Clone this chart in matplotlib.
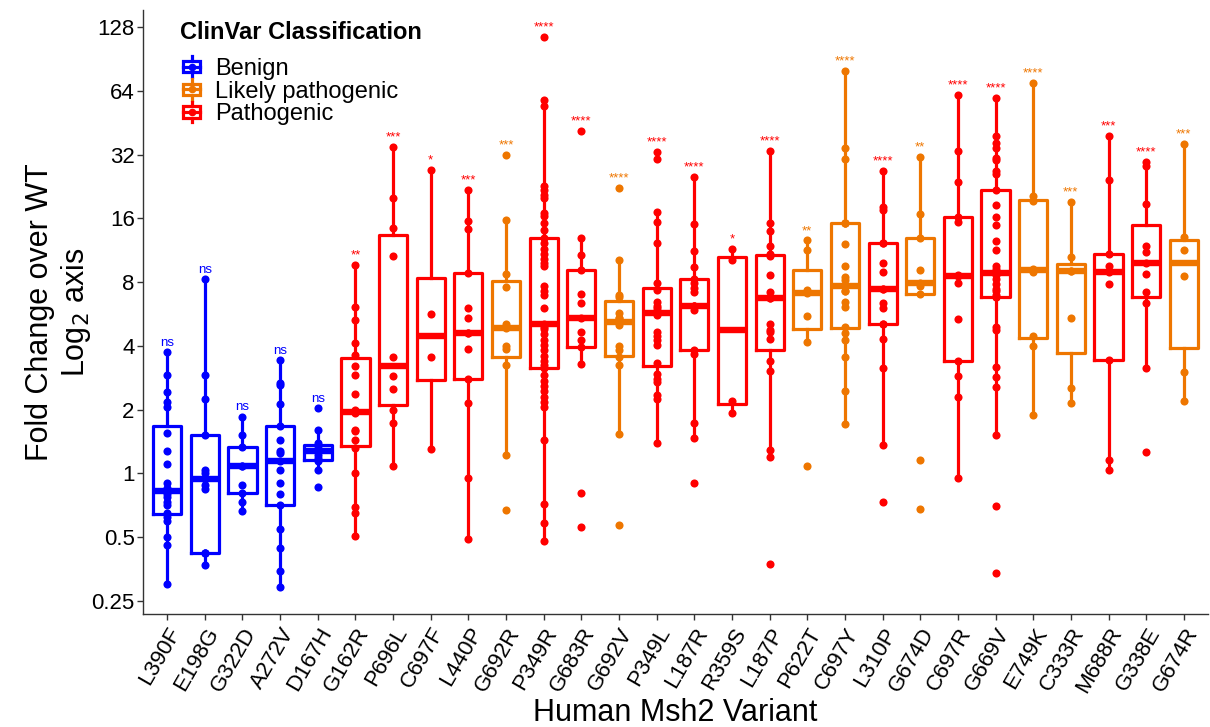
import numpy as np
import matplotlib
matplotlib.use("Agg")
import matplotlib.pyplot as plt
from matplotlib import cbook
from matplotlib.legend_handler import HandlerBase
from matplotlib.lines import Line2D
from matplotlib.patches import Rectangle

plt.rcParams["font.family"] = ["Liberation Sans", "DejaVu Sans"]

# ---------------------------------------------------------------- data
variants = ["L390F", "E198G", "G322D", "A272V", "D167H", "G162R", "P696L",
            "C697F", "L440P", "G692R", "P349R", "G683R", "G692V", "P349L",
            "L187R", "R359S", "L187P", "P622T", "C697Y", "L310P", "G674D",
            "C697R", "G669V", "E749K", "C333R", "M688R", "G338E", "G674R"]

classification = ["Benign"] * 5 + [
    "Pathogenic", "Pathogenic", "Pathogenic", "Pathogenic", "Likely pathogenic",
    "Pathogenic", "Pathogenic", "Likely pathogenic", "Pathogenic", "Pathogenic",
    "Pathogenic", "Pathogenic", "Likely pathogenic", "Likely pathogenic",
    "Pathogenic", "Likely pathogenic", "Pathogenic", "Pathogenic",
    "Likely pathogenic", "Likely pathogenic", "Pathogenic", "Pathogenic",
    "Likely pathogenic"]

significance = ["ns", "ns", "ns", "ns", "ns", "**", "***", "*", "***", "***",
                "****", "****", "****", "****", "****", "*", "****", "**",
                "****", "****", "**", "****", "****", "****", "***", "***",
                "****", "***"]

fold_L390F = [3.73, 2.90, 2.41, 2.18, 2.06, 1.55, 1.28, 1.11, 0.90, 0.855,
              0.80, 0.775, 0.734, 0.708, 0.647, 0.624, 0.597, 0.50, 0.46, 0.30]
fold_E198G = [8.25, 2.90, 2.24, 1.51, 1.04, 1.0, 0.94, 0.88, 0.84, 0.42,
              0.42, 0.42, 0.37]
fold_G322D = [1.85, 1.51, 1.33, 1.08, 1.08, 0.88, 0.81, 0.73, 0.66]
fold_A272V = [3.42, 2.68, 2.61, 2.13, 1.68, 1.44, 1.27, 1.25, 1.14, 1.04,
              0.90, 0.80, 0.71, 0.546, 0.445, 0.346, 0.29]
fold_D167H = [2.03, 1.60, 1.39, 1.32, 1.29, 1.27, 1.22, 1.18, 1.14, 1.04, 0.86]
fold_G162R = [9.68, 6.09, 5.28, 4.14, 3.61, 3.22, 2.92, 2.38, 1.99, 1.92,
              1.60, 1.58, 1.44, 1.32, 1.0, 0.69, 0.65, 0.505]
fold_P696L = [34.9, 19.9, 14.5, 10.6, 3.55, 2.89, 2.49, 1.99, 1.72, 1.08]
fold_C697F = [27.2, 5.68, 3.53, 1.30]
fold_L440P = [21.8, 15.6, 14.3, 8.87, 6.04, 5.40, 4.59, 4.59, 3.88, 2.78,
              2.16, 0.953, 0.49]
fold_G692R = [31.9, 15.7, 8.72, 7.57, 5.08, 4.84, 4.0, 3.86, 3.24, 1.22, 0.673]
fold_P349R = [115.6, 57.8, 54.6, 22.8, 21.9, 20.7, 19.9, 17.0, 16.5, 15.3,
              14.1, 12.9, 12.2, 11.5, 10.9, 10.3, 9.87, 9.57, 7.67, 7.29,
              6.96, 6.07, 5.10, 5.0, 4.9, 4.81, 4.54, 4.28, 4.04, 3.81, 3.60,
              3.39, 3.26, 3.14, 2.90, 2.74, 2.58, 2.44, 2.30, 2.17, 2.05,
              1.44, 0.717, 0.583, 0.48]
fold_G683R = [41.4, 12.95, 10.7, 9.13, 7.01, 6.36, 5.41, 4.66, 4.28, 3.96,
              3.29, 0.81, 0.557]
fold_G692V = [22.3, 10.2, 6.96, 6.83, 5.73, 5.41, 5.41, 5.0, 3.99, 3.81,
              3.53, 3.26, 1.53, 0.567]
fold_P349L = [33.0, 30.7, 17.2, 15.4, 12.2, 7.97, 7.38, 6.44, 6.20, 6.06,
              5.86, 5.84, 5.62, 4.63, 4.45, 4.28, 4.04, 3.32, 2.96, 2.79,
              2.69, 2.34, 2.25, 1.39]
fold_L187R = [25.2, 15.1, 11.2, 9.45, 8.30, 7.96, 7.52, 7.20, 6.15, 6.15,
              6.15, 5.89, 3.83, 3.67, 1.73, 1.47, 0.90]
fold_R359S = [11.5, 10.2, 2.20, 1.92]
fold_L187P = [33.5, 15.3, 13.97, 11.8, 10.9, 10.6, 8.65, 7.21, 6.76, 6.76,
              5.08, 4.76, 4.67, 4.32, 3.39, 3.05, 1.29, 1.19, 0.372]
fold_P622T = [12.6, 11.3, 7.35, 7.09, 5.52, 4.17, 1.08]
fold_C697Y = [80.0, 34.4, 30.5, 15.3, 15.3, 15.3, 12.1, 9.57, 8.49, 8.19,
              7.27, 7.27, 6.47, 6.13, 4.93, 4.59, 4.27, 3.56, 2.46, 1.71]
fold_L310P = [26.8, 18.2, 17.5, 12.3, 12.3, 9.83, 8.91, 7.43, 7.43, 6.36,
              6.02, 5.08, 5.08, 4.31, 3.15, 1.36, 0.73]
fold_G674D = [31.3, 16.8, 12.9, 9.09, 7.94, 7.64, 7.07, 1.15, 0.68]
fold_C697R = [61.6, 33.5, 23.9, 16.2, 15.4, 8.64, 8.59, 7.94, 5.38, 3.41,
              2.87, 2.29, 0.948]
fold_G669V = [59.3, 39.1, 36.4, 34.3, 30.8, 30.2, 26.9, 26.0, 21.8, 18.6,
              16.2, 14.9, 12.5, 11.3, 9.57, 9.28, 8.86, 8.67, 8.28, 7.85,
              7.46, 7.30, 6.96, 6.80, 6.80, 4.89, 4.76, 3.19, 2.84, 2.55,
              1.51, 0.70, 0.337]
fold_E749K = [70.0, 20.4, 19.4, 9.28, 8.93, 4.47, 3.98, 1.89]
fold_C333R = [19.1, 10.5, 9.07, 9.06, 5.44, 2.52, 2.14]
fold_M688R = [39.4, 24.4, 10.9, 9.57, 8.97, 7.82, 3.43, 1.16, 1.04]
fold_G338E = [29.7, 28.3, 18.7, 11.9, 11.15, 9.83, 8.75, 7.17, 6.40, 3.13, 1.26]
fold_G674R = [36.0, 13.1, 11.4, 8.56, 3.0, 2.2]

fold_changes = [fold_L390F, fold_E198G, fold_G322D, fold_A272V, fold_D167H,
                fold_G162R, fold_P696L, fold_C697F, fold_L440P, fold_G692R,
                fold_P349R, fold_G683R, fold_G692V, fold_P349L, fold_L187R,
                fold_R359S, fold_L187P, fold_P622T, fold_C697Y, fold_L310P,
                fold_G674D, fold_C697R, fold_G669V, fold_E749K, fold_C333R,
                fold_M688R, fold_G338E, fold_G674R]

y_ticks = [0.25, 0.5, 1, 2, 4, 8, 16, 32, 64, 128]
y_tick_labels = ["0.25", "0.5", "1", "2", "4", "8", "16", "32", "64", "128"]

class_order = ["Benign", "Likely pathogenic", "Pathogenic"]
class_colors = {"Benign": "#0000FF",
                "Likely pathogenic": "#EE7600",
                "Pathogenic": "#FF0000"}

# ---------------------------------------------------------------- figure
fig = plt.figure(figsize=(12.10, 7.27), dpi=100)
ax = fig.add_axes([143 / 1210, 113 / 727, (1208 - 143) / 1210, (717 - 113) / 727])
ax.set_yscale("log", base=2)

positions = np.arange(len(variants))
for pos, vals, cls, sig in zip(positions, fold_changes, classification, significance):
    col = class_colors[cls]
    vals = np.asarray(vals, dtype=float)
    # box statistics computed on the log2 scale, then mapped back
    st = cbook.boxplot_stats(np.log2(vals), whis=1.5)[0]
    for key in ("med", "q1", "q3", "whislo", "whishi", "mean"):
        st[key] = 2.0 ** st[key]
    st["fliers"] = []
    ax.bxp([st], positions=[pos], widths=0.75, showfliers=False,
           showcaps=False, patch_artist=False,
           boxprops=dict(color=col, linewidth=2.3),
           whiskerprops=dict(color=col, linewidth=2.3),
           medianprops=dict(color=col, linewidth=4.6, solid_capstyle="butt"),
           manage_ticks=False)
    ax.scatter(np.full(len(vals), pos), vals, s=34, color=col,
               linewidths=0, zorder=4)
    ax.annotate(sig, xy=(pos, vals.max()), xytext=(0, 2.5),
                textcoords="offset points", ha="center", va="bottom",
                color=col, fontsize=9.5)

ax.set_xlim(-0.64, len(variants) - 1 + 0.64)
ax.set_ylim(2 ** -2.209, 2 ** 7.273)
ax.set_yticks(y_ticks)
ax.set_yticklabels(y_tick_labels)
ax.yaxis.set_minor_locator(matplotlib.ticker.NullLocator())
ax.set_xticks(positions)
ax.set_xticklabels(variants, rotation=60, ha="right", rotation_mode="anchor")

for side in ("top", "right"):
    ax.spines[side].set_visible(False)
for side in ("left", "bottom"):
    ax.spines[side].set_linewidth(1.0)
    ax.spines[side].set_color("#333333")
ax.tick_params(axis="both", which="major", length=4, width=1.0,
               color="#333333", labelsize=16, labelcolor="black")
ax.tick_params(axis="x", pad=3)
ax.tick_params(axis="y", pad=2)

ax.set_ylabel("Fold Change over WT\nLog$_2$ axis", fontsize=22, labelpad=-1,
              linespacing=1.15)
ax.set_xlabel("Human Msh2 Variant", fontsize=22, labelpad=1)


# ---------------------------------------------------------------- legend
class BoxGlyph(HandlerBase):
    def create_artists(self, legend, orig_handle, xdescent, ydescent,
                       width, height, fontsize, trans):
        col = orig_handle.get_color()
        cx = width / 2 - xdescent
        cy = height / 2 - ydescent
        bw, bh = 12.0, 8.0
        whisk = Line2D([cx, cx], [cy - 7.5, cy + 7.5], color=col, lw=2.3,
                       transform=trans)
        box = Rectangle((cx - bw / 2, cy - bh / 2), bw, bh, fill=True,
                        facecolor="white", edgecolor=col, lw=2.3,
                        transform=trans)
        med = Line2D([cx - bw / 2, cx + bw / 2], [cy, cy], color=col, lw=2.3,
                     transform=trans)
        dot = Line2D([cx], [cy], marker="o", markersize=4.5, color=col,
                     lw=0, transform=trans)
        return [whisk, box, med, dot]


handles = [Line2D([], [], color=class_colors[c]) for c in class_order]
leg = ax.legend(handles, class_order, handler_map={Line2D: BoxGlyph()},
                title="ClinVar Classification", loc="upper left",
                bbox_to_anchor=(180 / 1210, 1 - 21 / 727),
                bbox_transform=fig.transFigure, frameon=False,
                fontsize=17, title_fontproperties={"weight": "bold", "size": 17},
                alignment="left", handlelength=1.0, handleheight=0.7,
                handletextpad=0.5, labelspacing=0.03, borderpad=0,
                borderaxespad=0)
leg._legend_box.sep = 10

fig.savefig("out.png", dpi=100)
